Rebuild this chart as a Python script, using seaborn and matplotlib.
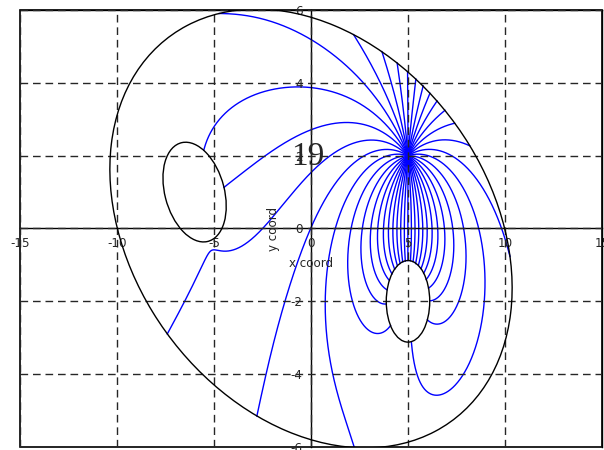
import numpy as np
import pandas as pd
import matplotlib
matplotlib.use('Agg')
import matplotlib.pyplot as plt
from matplotlib.patches import Ellipse, Rectangle
import seaborn as sns

# point charge (+1) that every blue field line starts from
source_xy = [5.0, 2.0]
n_lines = 40

# frame of the drawing: centre x, centre y, width, height, angle (deg)
outer_body = [0.0, 0.0, 21.1, 11.4, -12.7]
# conductors and the net charge on each
left_body = [-6.0, 1.0, 3.47, 2.47, -29.0]
lower_body = [5.0, -2.0, 2.24, 2.24, 0.0]
body_charge = [-0.03, -0.55]

xticks = [-15, -10, -5, 0, 5, 10, 15]
yticks = [-6, -4, -2, 0, 2, 4, 6]
yminor = [-5, -3, -1, 1, 3, 5]
frame_label = '19'
frame_label_xy = [-0.15, 1.96]


def ellipse_points(body, scale, m):
    cx, cy, w, h, ang = body
    t = np.linspace(0, 2 * np.pi, m, endpoint=False)
    a = np.deg2rad(ang)
    u = scale * w / 2 * np.cos(t)
    v = scale * h / 2 * np.sin(t)
    return np.column_stack([cx + u * np.cos(a) - v * np.sin(a),
                            cy + u * np.sin(a) + v * np.cos(a)])


def inside(p, body):
    cx, cy, w, h, ang = body
    a = np.deg2rad(ang)
    dx, dy = p[0] - cx, p[1] - cy
    u = dx * np.cos(a) + dy * np.sin(a)
    v = -dx * np.sin(a) + dy * np.cos(a)
    return (u / (w / 2)) ** 2 + (v / (h / 2)) ** 2 < 1


# charge simulation in free space: fictitious charges inside each conductor make its
# surface an equipotential (unknown level) carrying the given net charge
src = np.array(source_xy)
conductors = [left_body, lower_body]
ch_parts = [ellipse_points(b, 0.6, 40) for b in conductors]
co_parts = [ellipse_points(b, 1.0, 120) for b in conductors]
charges = np.vstack(ch_parts)
colloc = np.vstack(co_parts)
nq, nc, nb = len(charges), len(colloc), len(conductors)

dist = np.linalg.norm(colloc[:, None, :] - charges[None, :, :], axis=2)
mat = np.zeros((nc + nb, nq + nb))
mat[:nc, :nq] = -np.log(dist)
rhs = np.zeros(nc + nb)
rhs[:nc] = np.log(np.linalg.norm(colloc - src, axis=1))
r0, c0 = 0, 0
for i in range(nb):
    nco, nch = len(co_parts[i]), len(ch_parts[i])
    mat[r0:r0 + nco, nq + i] = -1.0
    mat[nc + i, c0:c0 + nch] = 50.0
    rhs[nc + i] = 50.0 * body_charge[i]
    r0 += nco
    c0 += nch
q = np.linalg.lstsq(mat, rhs, rcond=None)[0][:nq]


def field(p):
    d = p - src
    e = d / (d @ d)
    d = p - charges
    e = e + (q[:, None] * d / (d ** 2).sum(axis=1)[:, None]).sum(axis=0)
    return e / np.hypot(*e)


def trace(angle, ds=0.015, nmax=3000):
    p = src + 0.02 * np.array([np.cos(angle), np.sin(angle)])
    pts = [p.copy()]
    for _ in range(nmax):
        k1 = field(p)
        k2 = field(p + 0.5 * ds * k1)
        k3 = field(p + 0.5 * ds * k2)
        k4 = field(p + ds * k3)
        p = p + ds * (k1 + 2 * k2 + 2 * k3 + k4) / 6
        pts.append(p.copy())
        if not inside(p, outer_body) or inside(p, left_body) or inside(p, lower_body):
            break
    return np.array(pts)


rows = []
for k in range(n_lines):
    a = -np.pi / 2 + 2 * np.pi * k / n_lines
    pts = trace(a)
    rows.append(pd.DataFrame({'line': k, 'step': np.arange(len(pts)),
                              'x': pts[:, 0], 'y': pts[:, 1]}))
lines = pd.concat(rows, ignore_index=True)

sns.set_style('white')
plt.rcParams['axes.unicode_minus'] = False

fig = plt.figure(figsize=(6.04, 4.5), dpi=100)
ax = fig.add_axes([20 / 604, 3 / 450, 582 / 604, 437 / 450])

sns.lineplot(data=lines, x='x', y='y', units='line', estimator=None, sort=False,
             color='blue', lw=1, ax=ax, legend=False)

for body in (outer_body, left_body, lower_body):
    ax.add_patch(Ellipse((body[0], body[1]), body[2], body[3], angle=body[4],
                         fill=False, ec='black', lw=1, zorder=3))

ax.set_xlim(-15, 15)
ax.set_ylim(-6, 6)
ax.set_xticks(xticks)
ax.set_yticks(yticks)
ax.set_yticks(yminor, minor=True)

ax.spines['left'].set_position(('data', 0))
ax.spines['bottom'].set_position(('data', 0))
for s in ax.spines.values():
    s.set_color('black')
    s.set_linewidth(1)
ax.add_patch(Rectangle((0, 0), 1, 1, transform=ax.transAxes, fill=False,
                       ec='black', lw=1.2, zorder=2.5, clip_on=False))

ax.tick_params(which='both', direction='out', length=4, width=1,
               labelsize=8.6, color='black', pad=2)
ax.grid(True, which='major', color='0.15', linestyle=(0, (5.5, 3.5)), lw=1)
ax.set_axisbelow(False)

ax.set_xlabel('x coord', fontsize=8.6, labelpad=5)
ax.set_ylabel('y coord', fontsize=8.6, labelpad=8)

ax.text(frame_label_xy[0], frame_label_xy[1], frame_label, fontsize=24,
        family='Liberation Serif', ha='center', va='center')

fig.savefig('out.png', dpi=100)
